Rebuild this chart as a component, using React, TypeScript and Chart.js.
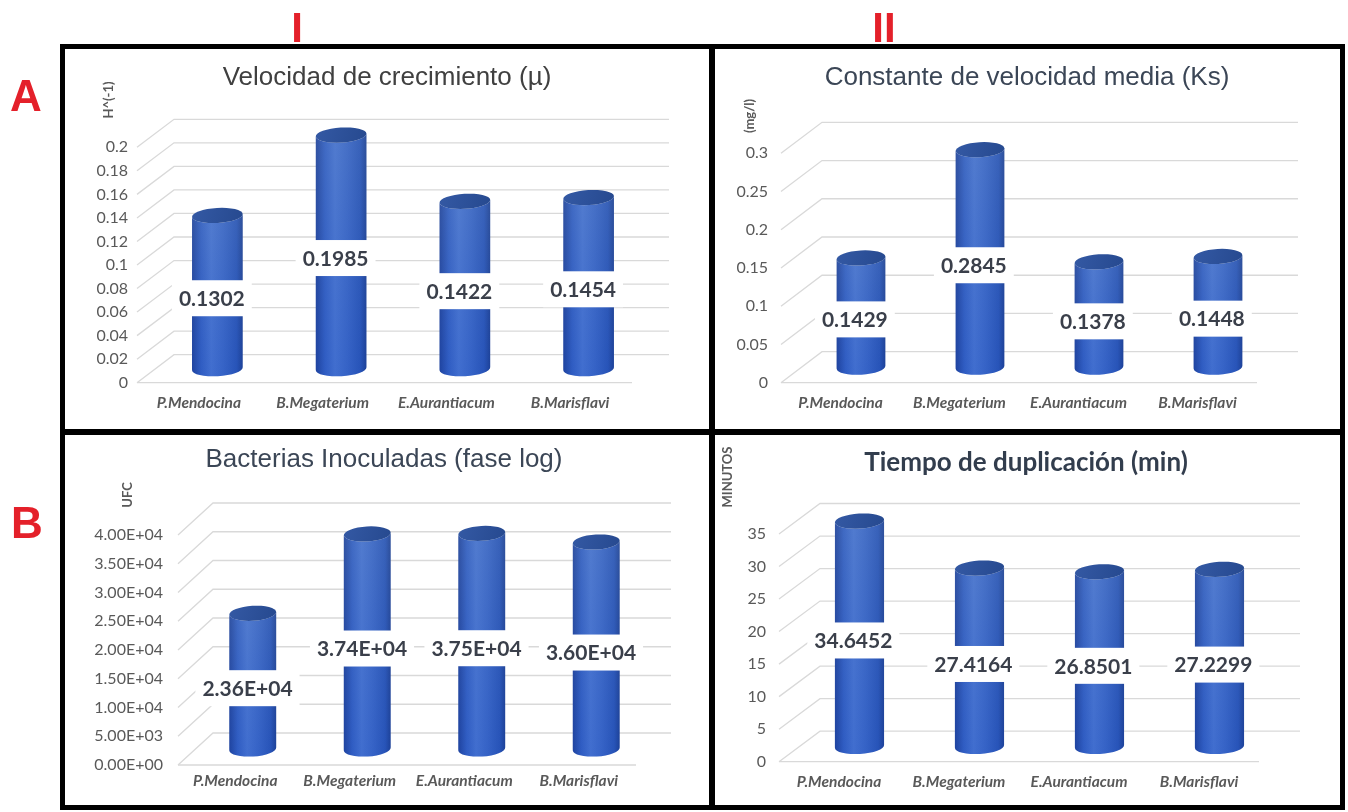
import React, { useEffect, useRef } from 'react';
import { Chart, registerables } from 'chart.js';

Chart.register(...registerables);

// ---------------- data ----------------
const categories = ['P.Mendocina', 'B.Megaterium', 'E.Aurantiacum', 'B.Marisflavi'];

const muValues = [0.1302, 0.1985, 0.1422, 0.1454];
const ksValues = [0.1429, 0.2845, 0.1378, 0.1448];
const ufcValues = [23600, 37400, 37500, 36000];
const durValues = [34.6452, 27.4164, 26.8501, 27.2299];

const muTicks = [0, 0.02, 0.04, 0.06, 0.08, 0.1, 0.12, 0.14, 0.16, 0.18, 0.2];
const muTickLabels = ['0', '0.02', '0.04', '0.06', '0.08', '0.1', '0.12', '0.14', '0.16', '0.18', '0.2'];

const ksTicks = [0, 0.05, 0.1, 0.15, 0.2, 0.25, 0.3];
const ksTickLabels = ['0', '0.05', '0.1', '0.15', '0.2', '0.25', '0.3'];

const ufcTicks = [0, 5000, 10000, 15000, 20000, 25000, 30000, 35000, 40000];
const ufcTickLabels = ['0.00E+00', '5.00E+03', '1.00E+04', '1.50E+04', '2.00E+04', '2.50E+04', '3.00E+04', '3.50E+04', '4.00E+04'];

const durTicks = [0, 5, 10, 15, 20, 25, 30, 35];
const durTickLabels = ['0', '5', '10', '15', '20', '25', '30', '35'];

// ---------------- formatting ----------------
const fix4 = (v: number) => v.toFixed(4);
const sci = (v: number) => {
  const e = Math.floor(Math.log10(Math.abs(v)));
  const m = v / Math.pow(10, e);
  return `${m.toFixed(2)}E${e >= 0 ? '+' : '-'}${String(Math.abs(e)).padStart(2, '0')}`;
};

// ---------------- panel layout ----------------
type Spec = {
  key: string;
  canvas: { x: number; y: number; w: number; h: number };
  area: { left: number; right: number; top: number; bottom: number };
  values: number[];
  ticks: number[];
  tickLabels: string[];
  fmt: (v: number) => string;
  dx: number;
  dy: number;
  tickPad: number;
  catPad: number;
  title: string;
  titleX: number;
  titleY: number;
  titleFont: string;
  titleColor: string;
  yTitle: string;
  yTitleX: number;
  yTitleY: number;
  yTitleFont: string;
};

const specs: Spec[] = [
  {
    key: 'A1',
    canvas: { x: 60, y: 44, w: 652, h: 388 },
    area: { left: 137, right: 632, top: 147.3, bottom: 382.7 },
    values: muValues, ticks: muTicks, tickLabels: muTickLabels, fmt: fix4,
    dx: 37, dy: 28, tickPad: 9, catPad: 11,
    title: 'Velocidad de crecimiento (µ)', titleX: 387, titleY: 85,
    titleFont: '26px "Liberation Sans"', titleColor: '#404040',
    yTitle: 'H^(-1)', yTitleX: 109, yTitleY: 100, yTitleFont: 'bold 13px Lato',
  },
  {
    key: 'A2',
    canvas: { x: 712, y: 44, w: 636, h: 388 },
    area: { left: 781, right: 1257, top: 153.3, bottom: 382.7 },
    values: ksValues, ticks: ksTicks, tickLabels: ksTickLabels, fmt: fix4,
    dx: 41, dy: 31, tickPad: 13, catPad: 11,
    title: 'Constante de velocidad media (Ks)', titleX: 1027, titleY: 85,
    titleFont: '26px "Liberation Sans"', titleColor: '#3b4656',
    yTitle: '(mg/l)', yTitleX: 750, yTitleY: 116, yTitleFont: 'bold 13px Lato',
  },
  {
    key: 'B1',
    canvas: { x: 60, y: 432, w: 652, h: 380 },
    area: { left: 178, right: 636, top: 535, bottom: 765 },
    values: ufcValues, ticks: ufcTicks, tickLabels: ufcTickLabels, fmt: sci,
    dx: 35, dy: 32, tickPad: 15, catPad: 7,
    title: 'Bacterias Inoculadas (fase log)', titleX: 384, titleY: 467,
    titleFont: '26px "Liberation Sans"', titleColor: '#3b4656',
    yTitle: 'UFC', yTitleX: 127.5, yTitleY: 495, yTitleFont: 'bold 13px Lato',
  },
  {
    key: 'B2',
    canvas: { x: 712, y: 432, w: 636, h: 380 },
    area: { left: 779, right: 1259, top: 534, bottom: 761.7 },
    values: durValues, ticks: durTicks, tickLabels: durTickLabels, fmt: fix4,
    dx: 41, dy: 30.5, tickPad: 13, catPad: 11,
    title: 'Tiempo de duplicación (min)', titleX: 1026, titleY: 471,
    titleFont: 'bold 26px Lato', titleColor: '#323d4d',
    yTitle: 'MINUTOS', yTitleX: 728, yTitleY: 477, yTitleFont: 'bold 13px Lato',
  },
];

// ---------------- drawing helpers ----------------
function drawCylinder(ctx: CanvasRenderingContext2D, cx: number, top: number, bot: number, w: number) {
  const rx = w / 2;
  const ry = 7.5;
  const rot = -0.06;
  const g = ctx.createLinearGradient(cx - rx, 0, cx + rx, 0);
  g.addColorStop(0, '#21459a');
  g.addColorStop(0.18, '#3462c2');
  g.addColorStop(0.38, '#4876d0');
  g.addColorStop(0.62, '#3b69c6');
  g.addColorStop(0.88, '#2b58b6');
  g.addColorStop(1, '#1f4392');
  ctx.beginPath();
  ctx.ellipse(cx, top, rx, ry, rot, 0, Math.PI, false);
  ctx.lineTo(cx - rx, bot);
  ctx.ellipse(cx, bot, rx, ry, rot, Math.PI, 0, true);
  ctx.closePath();
  ctx.fillStyle = g;
  ctx.fill();
  const vg = ctx.createLinearGradient(0, top, 0, bot + ry);
  vg.addColorStop(0, 'rgba(130,150,200,0.16)');
  vg.addColorStop(1, 'rgba(10,50,200,0.12)');
  ctx.fillStyle = vg;
  ctx.fill();
  const tg = ctx.createLinearGradient(cx - rx, top - ry, cx + rx, top + ry);
  tg.addColorStop(0, '#3459a4');
  tg.addColorStop(1, '#26498f');
  ctx.beginPath();
  ctx.ellipse(cx, top, rx, ry, rot, 0, Math.PI * 2);
  ctx.fillStyle = tg;
  ctx.fill();
}

function makePlugin(s: Spec) {
  const ox = s.canvas.x;
  const oy = s.canvas.y;
  return {
    id: 'cyl3d_' + s.key,
    beforeDatasetsDraw(chart: any) {
      const ctx: CanvasRenderingContext2D = chart.ctx;
      const { left, right } = chart.chartArea;
      const ys = chart.scales.y;
      ctx.save();
      ctx.strokeStyle = '#d9d9d9';
      ctx.lineWidth = 1.3;
      s.ticks.forEach((v) => {
        const y = ys.getPixelForValue(v);
        ctx.beginPath();
        ctx.moveTo(left, y);
        ctx.lineTo(left + s.dx, y - s.dy);
        ctx.lineTo(right + s.dx, y - s.dy);
        ctx.stroke();
      });
      const y0 = ys.getPixelForValue(0);
      ctx.beginPath();
      ctx.moveTo(left, y0);
      ctx.lineTo(right, y0);
      ctx.stroke();
      ctx.restore();
    },
    afterDatasetsDraw(chart: any) {
      const ctx: CanvasRenderingContext2D = chart.ctx;
      const meta = chart.getDatasetMeta(0);
      ctx.save();
      meta.data.forEach((el: any) => {
        const cx = el.x + s.dx / 2;
        drawCylinder(ctx, cx, el.y - s.dy / 2, el.base - s.dy / 2, el.width);
      });
      ctx.font = 'bold 21px Lato';
      ctx.textAlign = 'center';
      ctx.textBaseline = 'middle';
      meta.data.forEach((el: any, i: number) => {
        const txt = s.fmt(s.values[i]);
        const lx = el.x + s.dx * 0.35;
        const ly = (el.y + el.base) / 2 - s.dy * 0.28;
        const tw = ctx.measureText(txt).width;
        ctx.fillStyle = '#ffffff';
        ctx.fillRect(lx - tw / 2 - 7, ly - 18, tw + 14, 36);
        ctx.fillStyle = '#3a3f4a';
        ctx.fillText(txt, lx, ly + 1);
      });
      ctx.restore();
    },
    afterDraw(chart: any) {
      const ctx: CanvasRenderingContext2D = chart.ctx;
      ctx.save();
      ctx.font = s.titleFont;
      ctx.fillStyle = s.titleColor;
      ctx.textAlign = 'center';
      ctx.textBaseline = 'alphabetic';
      ctx.fillText(s.title, s.titleX - ox, s.titleY - oy);
      ctx.translate(s.yTitleX - ox, s.yTitleY - oy);
      ctx.rotate(-Math.PI / 2);
      ctx.font = s.yTitleFont;
      ctx.fillStyle = '#595959';
      ctx.textBaseline = 'middle';
      ctx.fillText(s.yTitle, 0, 0);
      ctx.restore();
    },
  };
}

function Panel({ s }: { s: Spec }) {
  const ref = useRef<HTMLCanvasElement | null>(null);
  useEffect(() => {
    if (!ref.current) return;
    const padT = s.area.top - s.canvas.y;
    const yW = s.area.left - s.canvas.x;
    const padR = s.canvas.x + s.canvas.w - s.area.right;
    const xH = s.canvas.y + s.canvas.h - s.area.bottom;
    const chart = new Chart(ref.current, {
      type: 'bar',
      data: {
        labels: categories,
        datasets: [
          {
            data: s.values,
            backgroundColor: 'rgba(0,0,0,0)',
            borderWidth: 0,
            barPercentage: 0.41,
            categoryPercentage: 1,
          },
        ],
      },
      options: {
        animation: false,
        responsive: false,
        maintainAspectRatio: false,
        devicePixelRatio: 1,
        layout: { padding: { left: 0, right: padR, top: padT, bottom: 0 } },
        plugins: {
          legend: { display: false },
          tooltip: { enabled: false },
          title: { display: false },
        },
        scales: {
          x: {
            grid: { display: false, drawTicks: false },
            border: { display: false },
            ticks: {
              font: { family: 'Lato', size: 15.5, style: 'italic', weight: 'bold' },
              color: '#595959',
              padding: s.catPad,
              maxRotation: 0,
              autoSkip: false,
            },
            afterFit: (sc: any) => {
              sc.height = xH;
            },
          },
          y: {
            min: s.ticks[0],
            max: s.ticks[s.ticks.length - 1],
            grid: { display: false, drawTicks: false },
            border: { display: false },
            afterBuildTicks: (sc: any) => {
              sc.ticks = s.ticks.map((v) => ({ value: v }));
            },
            ticks: {
              callback: (_v: any, i: number) => s.tickLabels[i],
              font: { family: 'Lato', size: 16 },
              color: '#595959',
              padding: s.tickPad,
            },
            afterFit: (sc: any) => {
              sc.width = yW;
            },
          },
        },
      } as any,
      plugins: [makePlugin(s)],
    });
    return () => chart.destroy();
  }, [s]);
  return (
    <canvas
      ref={ref}
      width={s.canvas.w}
      height={s.canvas.h}
      style={{
        position: 'absolute',
        left: s.canvas.x,
        top: s.canvas.y,
        width: s.canvas.w,
        height: s.canvas.h,
      }}
    />
  );
}

const bar = (left: number, top: number, width: number, height: number) => (
  <div style={{ position: 'absolute', left, top, width, height, background: '#000', zIndex: 2 }} />
);

const redLabel = (text: string, cx: number, capTop: number, size: number) => (
  <div
    style={{
      position: 'absolute',
      left: cx - 40,
      width: 80,
      top: capTop - size * 0.1305,
      fontFamily: '"Liberation Sans", Arial, sans-serif',
      fontWeight: 'bold',
      fontSize: size,
      lineHeight: `${size}px`,
      color: '#e4202a',
      textAlign: 'center',
      zIndex: 3,
    }}
  >
    {text}
  </div>
);

export default function App() {
  return (
    <div
      style={{
        position: 'fixed',
        left: 0,
        top: 0,
        width: 1348,
        height: 812,
        background: '#ffffff',
        overflow: 'hidden',
      }}
    >
      {specs.map((s) => (
        <Panel key={s.key} s={s} />
      ))}
      {bar(60, 44, 1285, 5)}
      {bar(60, 44, 5, 766)}
      {bar(1340, 44, 5, 766)}
      {bar(60, 805, 1285, 5)}
      {bar(709, 44, 6, 766)}
      {bar(60, 429, 1285, 6)}
      {redLabel('I', 297, 12, 42)}
      {redLabel('II', 884, 12, 42)}
      {redLabel('A', 26, 80, 44)}
      {redLabel('B', 27, 507, 44)}
    </div>
  );
}
